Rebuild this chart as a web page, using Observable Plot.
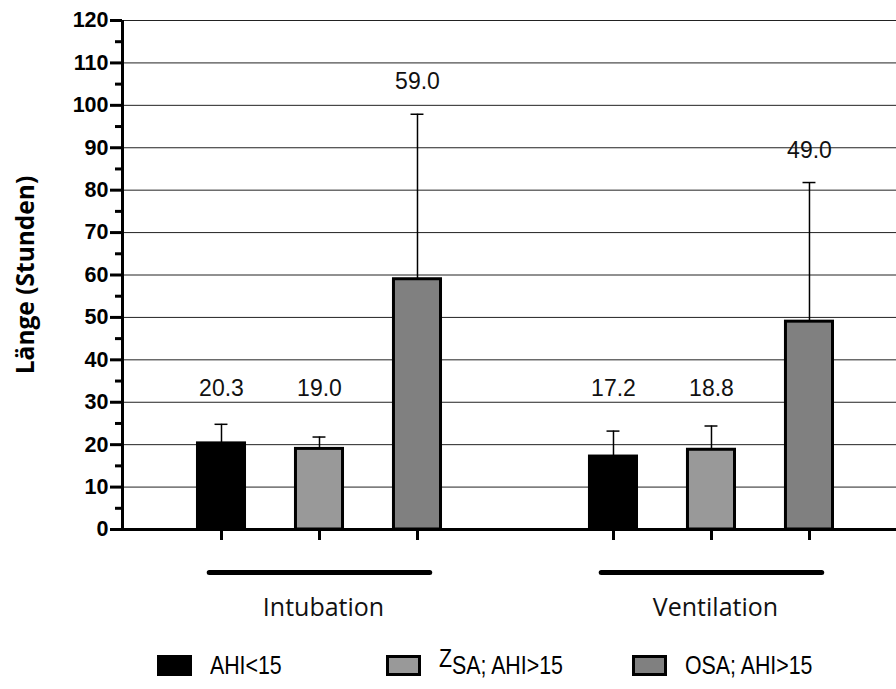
<!DOCTYPE html>
<html>
<head>
<meta charset="utf-8">
<script src="https://cdn.jsdelivr.net/npm/d3@7"></script>
<script src="https://cdn.jsdelivr.net/npm/@observablehq/plot@0.6"></script>
<style>
  body { margin: 0; background: #fff; }
  #chart svg { display: block; }
  #legend { position: relative; width: 896px; height: 49px; font-family: "Liberation Sans", Arial, sans-serif; font-size: 26px; color: #000; }
  .item { position: absolute; top: 15px; display: flex; align-items: center; height: 21px; }
  .sw { width: 35px; height: 21px; box-sizing: border-box; margin-right: 18px; flex: none; }
  .txt { display: inline-block; transform: scaleX(0.82); transform-origin: left center; white-space: nowrap; line-height: 21px; }
  .sup { position: relative; top: -7px; }
</style>
</head>
<body>
<div id="chart"></div>
<div id="legend"></div>
<script>
// ---- data ----
const groups = ["Intubation", "Ventilation"];
const categories = ["AHI<15", "ZSA; AHI>15", "OSA; AHI>15"];
const intubationMeans = [20.3, 19.0, 59.0];
const intubationErrors = [4.5, 2.8, 38.9];
const ventilationMeans = [17.2, 18.8, 49.0];
const ventilationErrors = [6.0, 5.6, 32.8];
const yTicks = [0, 10, 20, 30, 40, 50, 60, 70, 80, 90, 100, 110, 120];
const yMinorTicks = [5, 15, 25, 35, 45, 55, 65, 75, 85, 95, 105, 115];
const fills = ["#000000", "#999999", "#808080"];
const yLabel = "Länge (Stunden)";

// ---- table ----
const meansByGroup = [intubationMeans, ventilationMeans];
const errsByGroup = [intubationErrors, ventilationErrors];
const data = [];
groups.forEach((g, gi) => {
  categories.forEach((c, ci) => {
    data.push({group: g, category: c, slot: gi * 4 + ci + 1,
      mean: meansByGroup[gi][ci], err: errsByGroup[gi][ci], fill: fills[ci]});
  });
});
const groupData = groups.map((g, gi) => ({group: g, first: gi * 4 + 1, last: gi * 4 + 3, center: gi * 4 + 2}));
const xDomain = [-0.0102, 7.888];
const half = 0.24;
const cap = 0.066;
const SANS = "'Liberation Sans', Arial, sans-serif";
const OPEN = "'Open Sans', sans-serif";

const chart = Plot.plot({
  width: 896,
  height: 640,
  marginLeft: 122,
  marginRight: 0,
  marginTop: 20,
  marginBottom: 111,
  style: {background: "#fff", overflow: "visible"},
  x: {type: "linear", domain: xDomain, axis: null},
  y: {domain: [0, 120], axis: null},
  marks: [
    Plot.ruleY(yTicks.filter(d => d > 0), {stroke: "#222", strokeWidth: 1}),
    Plot.rect(data, {x1: d => d.slot - half, x2: d => d.slot + half, y1: 0, y2: "mean",
      fill: "fill", stroke: "#000", strokeWidth: 3}),
    Plot.ruleX(data, {x: "slot", y1: "mean", y2: d => d.mean + d.err, stroke: "#000", strokeWidth: 1.5}),
    Plot.ruleY(data, {y: d => d.mean + d.err, x1: d => d.slot - cap, x2: d => d.slot + cap, stroke: "#000", strokeWidth: 1.5}),
    Plot.text(data, {x: "slot", y: d => Math.max(33.2, d.mean + d.err + 7.6), text: d => d.mean.toFixed(1),
      fontSize: 23, fontFamily: SANS, fill: "#111"}),
    // axes
    Plot.ruleX([xDomain[0]], {y1: 0, y2: 120, stroke: "#000", strokeWidth: 3}),
    Plot.ruleY([0], {stroke: "#000", strokeWidth: 3}),
    Plot.axisY(yTicks, {tickSize: 12, strokeWidth: 3, tickFormat: () => "", label: null}),
    Plot.text(yTicks, {y: d => d, frameAnchor: "left", dx: -14, textAnchor: "end", text: d => String(d),
      fontSize: 21.5, fontWeight: "bold", fontFamily: SANS, fill: "#000"}),
    Plot.axisY(yMinorTicks, {tickSize: 7, strokeWidth: 3, tickFormat: () => "", label: null}),
    Plot.axisX(data.map(d => d.slot), {tickSize: 11, strokeWidth: 3, tickFormat: () => "", label: null}),
    Plot.text([yLabel], {frameAnchor: "left", text: d => d, rotate: -90, dx: -96, textAnchor: "middle",
      fontSize: 24.5, fontWeight: "bold", fontFamily: OPEN, fill: "#000"}),
    // group annotations
    Plot.ruleY(groupData, {x1: d => d.first - 0.12, x2: d => d.last + 0.13, y: 0, dy: 43,
      stroke: "#000", strokeWidth: 5, strokeLinecap: "round"}),
    Plot.text(groupData, {x: "center", y: 0, dy: 78, dx: 4, text: "group", fontSize: 25,
      fontFamily: OPEN, fill: "#111"})
  ]
});
document.getElementById("chart").appendChild(chart);

// ---- legend ----
const legend = document.getElementById("legend");
const legendX = [157, 386, 632];
categories.forEach((c, i) => {
  const item = document.createElement("div");
  item.className = "item";
  item.style.left = legendX[i] + "px";
  const sw = document.createElement("div");
  sw.className = "sw";
  sw.style.background = fills[i];
  sw.style.border = "3px solid #000";
  item.appendChild(sw);
  const t = document.createElement("span");
  t.className = "txt";
  if (c.startsWith("Z")) {
    const z = document.createElement("span");
    z.className = "sup";
    z.textContent = "Z";
    t.appendChild(z);
    t.appendChild(document.createTextNode(c.slice(1)));
  } else {
    t.textContent = c;
  }
  item.appendChild(t);
  legend.appendChild(item);
});
</script>
</body>
</html>
